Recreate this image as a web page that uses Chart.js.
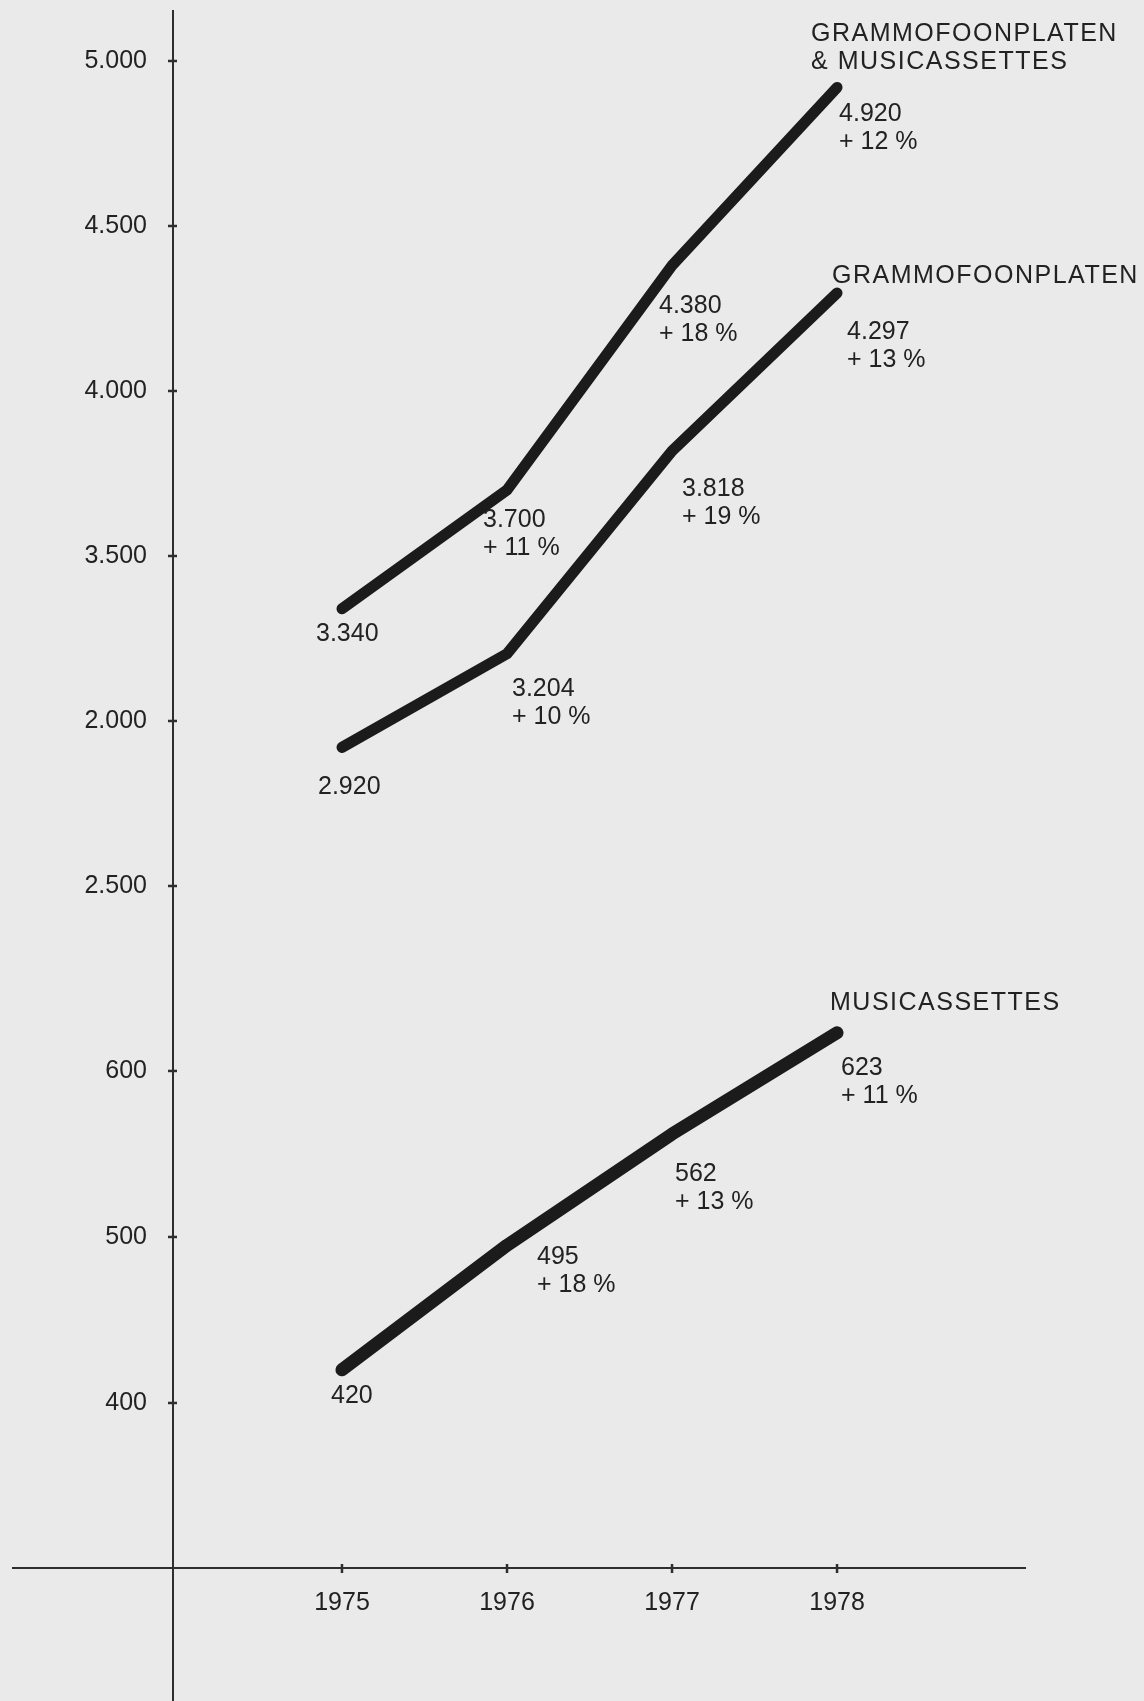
<!DOCTYPE html>
<html>
<head>
<meta charset="utf-8">
<script src="https://cdn.jsdelivr.net/npm/chart.js@4"></script>
<style>
  html, body { margin: 0; padding: 0; background: #eaeaea; }
  #wrap { width: 1144px; height: 1701px; position: relative; }
</style>
</head>
<body>
<div id="wrap"><canvas id="c"></canvas></div>
<script>
// ---- data ----
const years = [1975, 1976, 1977, 1978];
const yearTickLabels = ['1975', '1976', '1977', '1978'];

const totalValues = [3340, 3700, 4380, 4920];          // grammofoonplaten & musicassettes
const totalGrowth = ['', '+ 11 %', '+ 18 %', '+ 12 %'];

const recordValues = [2920, 3204, 3818, 4297];         // grammofoonplaten
const recordGrowth = ['', '+ 10 %', '+ 19 %', '+ 13 %'];

const cassetteValues = [420, 495, 562, 623];           // musicassettes
const cassetteGrowth = ['', '+ 18 %', '+ 13 %', '+ 11 %'];

const seriesNames = [
  ['GRAMMOFOONPLATEN', '& MUSICASSETTES'],
  ['GRAMMOFOONPLATEN'],
  ['MUSICASSETTES']
];

const upperTickValues = [5000, 4500, 4000, 3500, 3000, 2500];
const upperTickLabels = ['5.000', '4.500', '4.000', '3.500', '2.000', '2.500'];
const lowerTickValues = [600, 500, 400];
const lowerTickLabels = ['600', '500', '400'];

// ---- style ----
const INK = '#1b1b1b';
const AXIS = '#2e2e2e';
const TEXT = '#222222';
const FONT = '"Liberation Sans", Arial, Helvetica, sans-serif';
const FSIZE = 25;

// label placement relative to each drawn point (style only)
const labelOffsets = [
  [[-26, 25], [-24, 30], [-13, 41], [2, 27]],
  [[-24, 40], [5, 35], [10, 38], [10, 39]],
  [[-11, 26], [30, 12], [3, 40], [4, 35]]
];
const nameOffsets = [[-26, -53], [-5, -17], [-7, -30]];
const LINE_GAP = 28;

function fmt(v) {
  if (v >= 1000) return Math.floor(v / 1000) + '.' + String(v % 1000).padStart(3, '0');
  return String(v);
}

const growth = [totalGrowth, recordGrowth, cassetteGrowth];

const axisPlugin = {
  id: 'axisExtras',
  afterDraw(chart) {
    const ctx = chart.ctx;
    const a = chart.chartArea;
    ctx.save();
    ctx.strokeStyle = AXIS;
    ctx.lineWidth = 2;
    ctx.beginPath();
    ctx.moveTo(12, a.bottom); ctx.lineTo(a.left, a.bottom);
    ctx.moveTo(a.left, a.bottom); ctx.lineTo(a.left, chart.height);
    ctx.stroke();
    ctx.lineWidth = 2.5;
    ['yUpper', 'yLower'].forEach(id => {
      const s = chart.scales[id];
      s.ticks.forEach((t, i) => {
        const y = s.getPixelForTick(i);
        ctx.beginPath(); ctx.moveTo(a.left - 5, y); ctx.lineTo(a.left + 4, y); ctx.stroke();
      });
    });
    const sx = chart.scales.x;
    sx.ticks.forEach((t, i) => {
      const x = sx.getPixelForTick(i);
      ctx.beginPath(); ctx.moveTo(x, a.bottom - 4); ctx.lineTo(x, a.bottom + 5); ctx.stroke();
    });
    ctx.restore();
  }
};

const labelPlugin = {
  id: 'valueLabels',
  afterDatasetsDraw(chart) {
    const ctx = chart.ctx;
    ctx.save();
    ctx.fillStyle = TEXT;
    ctx.textAlign = 'left';
    ctx.textBaseline = 'middle';
    chart.data.datasets.forEach((ds, si) => {
      const meta = chart.getDatasetMeta(si);
      ctx.font = FSIZE + 'px ' + FONT;
      ctx.letterSpacing = '0px';
      meta.data.forEach((pt, i) => {
        const [dx, dy] = labelOffsets[si][i];
        ctx.fillText(fmt(ds.data[i].y), pt.x + dx, pt.y + dy);
        if (growth[si][i]) ctx.fillText(growth[si][i], pt.x + dx, pt.y + dy + LINE_GAP);
      });
      const last = meta.data[meta.data.length - 1];
      const [nx, ny] = nameOffsets[si];
      ctx.letterSpacing = '1.5px';
      seriesNames[si].forEach((line, k) => {
        ctx.fillText(line, last.x + nx, last.y + ny + k * LINE_GAP);
      });
    });
    ctx.restore();
  }
};

function lineDataset(values, axis, width) {
  return {
    data: years.map((x, i) => ({ x: x, y: values[i] })),
    yAxisID: axis,
    borderColor: INK,
    backgroundColor: INK,
    borderWidth: width,
    pointRadius: 0,
    tension: 0,
    fill: false,
    borderCapStyle: 'round',
    borderJoinStyle: 'round',
    clip: false
  };
}

function noPad(s) {
  s.paddingTop = 0; s.paddingBottom = 0; s.paddingLeft = 0; s.paddingRight = 0;
}

const yCommon = {
  type: 'linear',
  position: 'left',
  stack: 'ystack',
  afterFit: s => { s.width = 173; noPad(s); },
  grid: { drawOnChartArea: false, drawTicks: true, tickLength: 5, tickColor: 'rgba(0,0,0,0)' },
  border: { display: true, color: AXIS, width: 2 },
};

new Chart(document.getElementById('c'), {
  type: 'line',
  data: {
    datasets: [
      lineDataset(totalValues, 'yUpper', 11),
      lineDataset(recordValues, 'yUpper', 11),
      lineDataset(cassetteValues, 'yLower', 13)
    ]
  },
  options: {
    responsive: true,
    maintainAspectRatio: false,
    animation: false,
    layout: { padding: { top: 11, right: 119, bottom: 0, left: 0 } },
    plugins: { legend: { display: false }, tooltip: { enabled: false } },
    scales: {
      x: {
        type: 'linear',
        position: 'bottom',
        min: 1973.976,
        max: 1979.139,
        afterBuildTicks: s => { s.ticks = years.map(v => ({ value: v })); },
        afterFit: s => { s.height = 133; noPad(s); },
        grid: { drawOnChartArea: false, drawTicks: true, tickLength: 5, tickColor: 'rgba(0,0,0,0)' },
        border: { display: true, color: AXIS, width: 2 },
        ticks: {
          autoSkip: false, maxRotation: 0, padding: 15, color: TEXT,
          font: { family: FONT, size: FSIZE },
          callback: v => yearTickLabels[years.indexOf(v)]
        }
      },
      yLower: Object.assign({}, yCommon, {
        stackWeight: 591,
        min: 300.6,
        max: 656.6,
        afterBuildTicks: s => { s.ticks = lowerTickValues.map(v => ({ value: v })); },
        ticks: {
          autoSkip: false, padding: 21, color: TEXT,
          font: { family: FONT, size: FSIZE },
          callback: v => lowerTickLabels[lowerTickValues.indexOf(v)]
        }
      }),
      yUpper: Object.assign({}, yCommon, {
        stackWeight: 966,
        min: 2224.2,
        max: 5151.5,
        afterBuildTicks: s => { s.ticks = upperTickValues.map(v => ({ value: v })); },
        ticks: {
          autoSkip: false, padding: 21, color: TEXT,
          font: { family: FONT, size: FSIZE },
          callback: v => upperTickLabels[upperTickValues.indexOf(v)]
        }
      })
    }
  },
  plugins: [axisPlugin, labelPlugin]
});
</script>
</body>
</html>
